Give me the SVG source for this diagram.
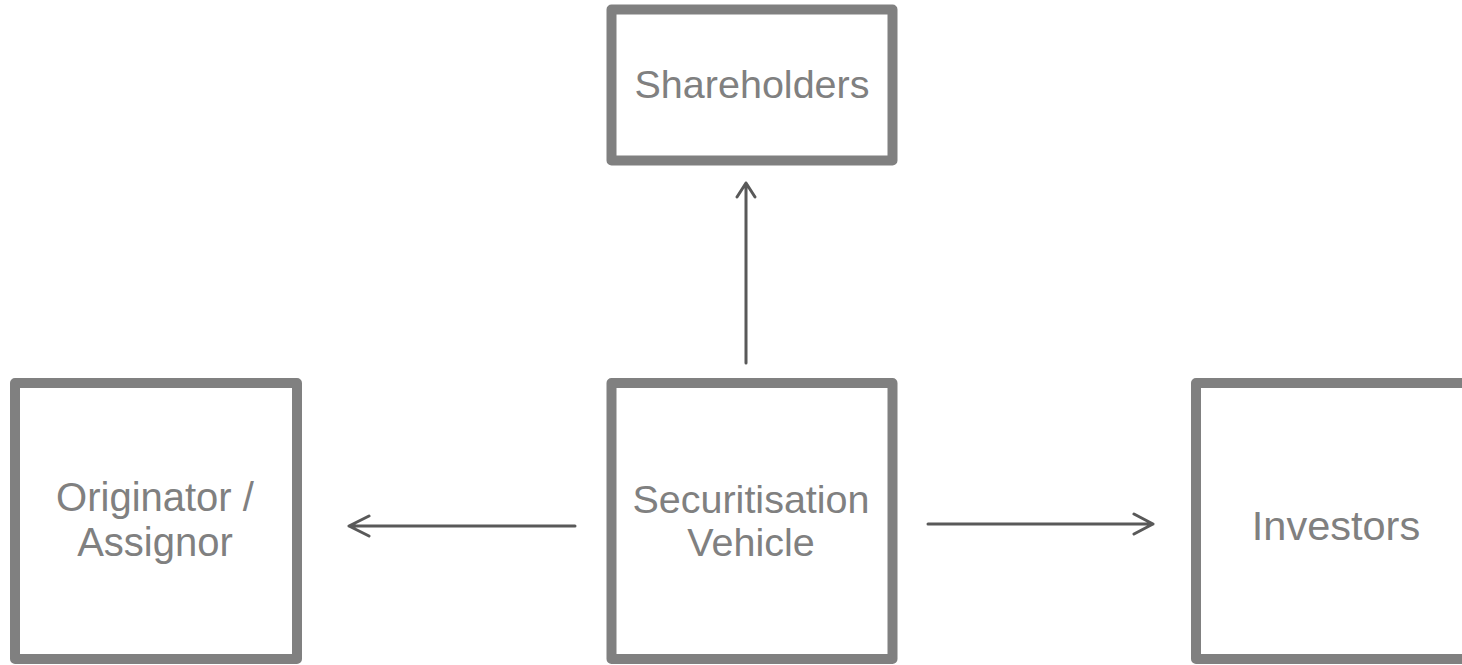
<svg xmlns="http://www.w3.org/2000/svg" width="1462" height="665" viewBox="0 0 1462 665">
<style>
.box{fill:#ffffff;stroke:#808080;stroke-width:10;stroke-linejoin:round}
.lbl{font-family:"Liberation Sans",Arial,sans-serif;fill:#808080;text-anchor:middle}
.conn{stroke:#595959;stroke-width:3;fill:none;stroke-linecap:round;stroke-linejoin:round}
</style>
<rect width="1462" height="665" fill="#ffffff"/>
<g id="shareholders">
<rect class="box" x="611.5" y="9.5" width="281" height="151"/>
<text class="lbl" x="752" y="97.5" font-size="39.5">Shareholders</text>
</g>
<g id="securitisation-vehicle">
<rect class="box" x="611.5" y="383" width="281" height="276"/>
<text class="lbl" x="751" y="513" font-size="39.5">Securitisation</text>
<text class="lbl" x="751" y="556" font-size="39.5">Vehicle</text>
</g>
<g id="originator">
<rect class="box" x="15" y="383" width="282" height="276"/>
<text class="lbl" x="155" y="511" font-size="40">Originator /</text>
<text class="lbl" x="155" y="556" font-size="40">Assignor</text>
</g>
<g id="investors">
<rect class="box" x="1196" y="383" width="280" height="276"/>
<text class="lbl" x="1336" y="539.5" font-size="41.5">Investors</text>
</g>
<g id="connectors">
<path class="conn" d="M746 363 V183 M737 197 L746 183 L755 197"/>
<path class="conn" d="M575 526 H349 M369 516 L349 526 L369 536"/>
<path class="conn" d="M928 524 H1153 M1134 514 L1153 524 L1134 534"/>
</g>
</svg>
